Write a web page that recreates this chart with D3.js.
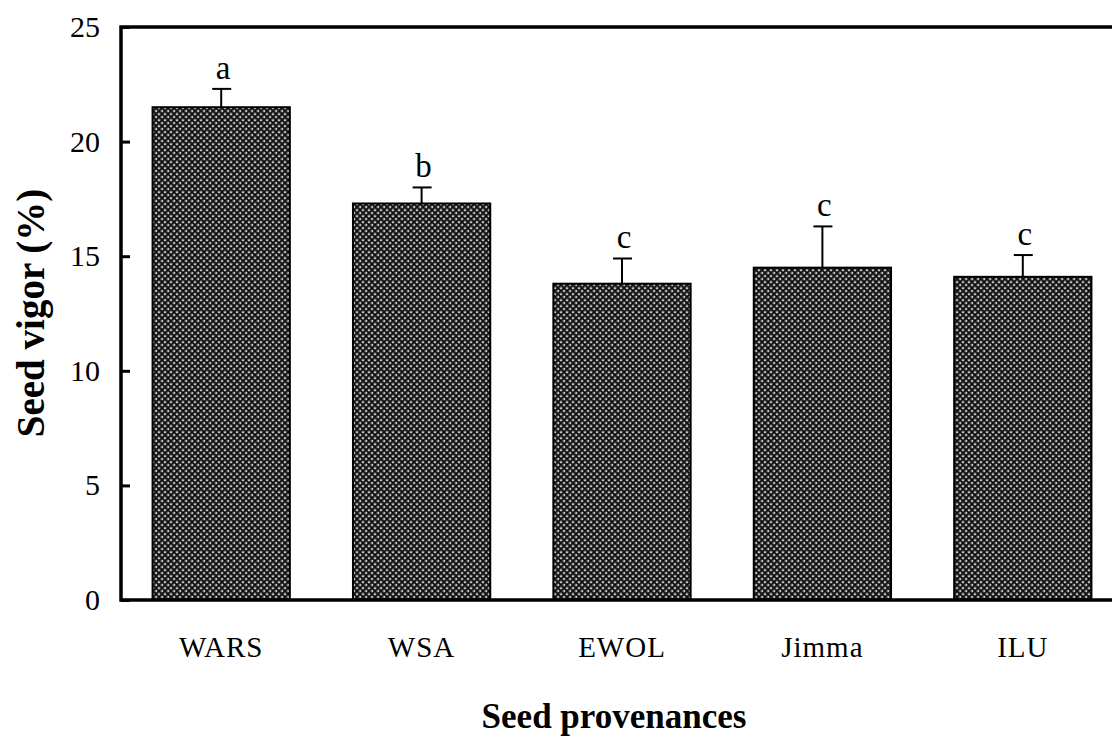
<!DOCTYPE html>
<html>
<head>
<meta charset="utf-8">
<script src="https://cdn.jsdelivr.net/npm/d3@7"></script>
<style>
  body { margin: 0; background: #fff; }
  svg { display: block; }
</style>
</head>
<body>
<div id="chart"></div>
<script>
// data
const provenances = ["WARS", "WSA", "EWOL", "Jimma", "ILU"];
const vigor = [21.5, 17.3, 13.8, 14.5, 14.1];
const errs = [0.8, 0.7, 1.1, 1.8, 0.95];
const letters = ["a", "b", "c", "c", "c"];
const yTicks = [0, 5, 10, 15, 20, 25];

const width = 1112, height = 738;
const svg = d3.select("#chart").append("svg").attr("width", width).attr("height", height);

// hatch pattern for bars
let defs = svg.append("defs");
let pat = defs.append("pattern").attr("id", "hatch").attr("patternUnits", "userSpaceOnUse")
    .attr("width", 6).attr("height", 6);
pat.append("rect").attr("width", 6).attr("height", 6).attr("fill", "#8a8a8a");
pat.append("path").attr("d", "M0,0 L6,6 M6,0 L0,6").attr("stroke", "#111").attr("stroke-width", 1.6);
pat.append("rect").attr("x", 0).attr("y", 2.5).attr("width", 1).attr("height", 1).attr("fill", "#fff");
pat.append("rect").attr("x", 2.5).attr("y", 0).attr("width", 1).attr("height", 1).attr("fill", "#fff");

let mLeft = 121, mTop = 27, mBottom = 600;
let x = d3.scaleBand().domain(provenances).range([mLeft, mLeft + 5 * 200.4]).paddingInner(0.315).paddingOuter(0.1575);
let y = d3.scaleLinear().domain([0, 25]).range([mBottom, mTop]);

let font = "'Liberation Serif', 'Times New Roman', serif";

// bars
svg.append("g").selectAll("rect").data(provenances).enter().append("rect")
    .attr("x", d => x(d)).attr("y", (d, i) => y(vigor[i]))
    .attr("width", x.bandwidth()).attr("height", (d, i) => y(0) - y(vigor[i]))
    .attr("fill", "url(#hatch)").attr("stroke", "#000").attr("stroke-width", 2);

// error bars (T caps)
let eb = svg.append("g").attr("stroke", "#000").attr("stroke-width", 2);
provenances.forEach((d, i) => {
    let cx = x(d) + x.bandwidth() / 2;
    let yt = y(vigor[i] + errs[i]);
    eb.append("line").attr("x1", cx).attr("x2", cx).attr("y1", y(vigor[i])).attr("y2", yt);
    eb.append("line").attr("x1", cx - 9).attr("x2", cx + 10).attr("y1", yt).attr("y2", yt);
});

// letters
svg.append("g").selectAll("text").data(provenances).enter().append("text")
    .attr("x", d => x(d) + x.bandwidth() / 2 + 2)
    .attr("y", (d, i) => y(vigor[i] + errs[i]) - 10)
    .attr("text-anchor", "middle").attr("font-family", font).attr("font-size", 33)
    .text((d, i) => letters[i]);

// y axis
let yAxis = d3.axisRight(y).tickValues(yTicks).tickSize(9).tickFormat("");
let gy = svg.append("g").attr("transform", "translate(" + mLeft + ",0)").call(yAxis);
gy.select(".domain").remove();
gy.selectAll(".tick line").attr("stroke-width", 3);
svg.append("g").selectAll("text").data(yTicks).enter().append("text")
    .attr("x", 100).attr("y", d => y(d) + 10).attr("text-anchor", "end")
    .attr("font-family", font).attr("font-size", 30).text(d => d);

// frame lines
svg.append("path").attr("d", "M" + width + "," + mTop + " L" + mLeft + "," + mTop + " L" + mLeft + "," + mBottom + " L" + width + "," + mBottom)
    .attr("fill", "none").attr("stroke", "#000").attr("stroke-width", 3.5);

// x labels
svg.append("g").selectAll("text").data(provenances).enter().append("text")
    .attr("x", d => x(d) + x.bandwidth() / 2).attr("y", 657)
    .attr("text-anchor", "middle").attr("font-family", font).attr("font-size", 29)
    .attr("letter-spacing", 1)
    .text(d => d);

// titles
svg.append("text").attr("x", 614).attr("y", 728).attr("text-anchor", "middle")
    .attr("font-family", font).attr("font-size", 35).attr("font-weight", "bold").text("Seed provenances");
svg.append("text").attr("transform", "translate(44,313) rotate(-90)").attr("text-anchor", "middle")
    .attr("font-family", font).attr("font-size", 39).attr("font-weight", "bold").text("Seed vigor (%)");
</script>
</body>
</html>
